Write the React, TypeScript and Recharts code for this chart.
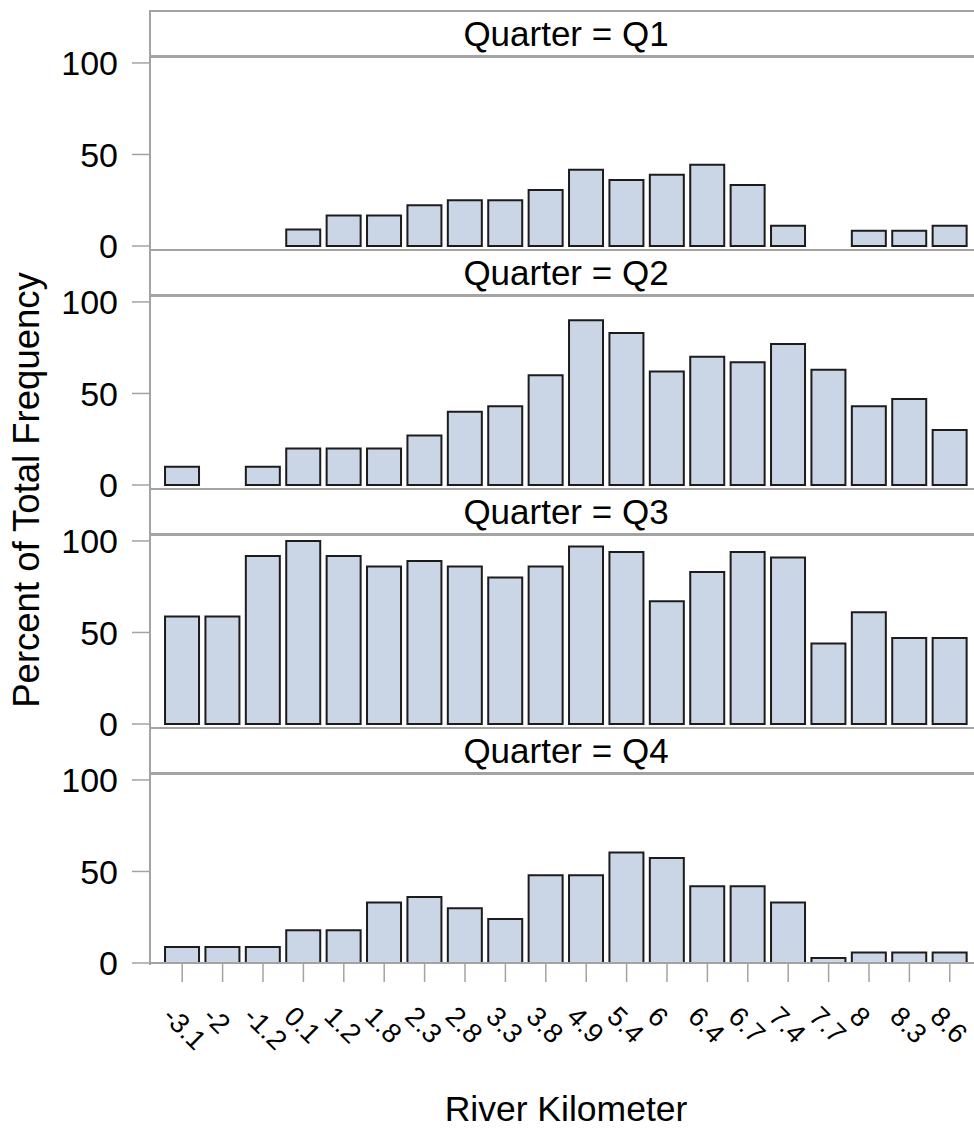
import { Bar, BarChart, XAxis, YAxis } from "recharts";

const riverKm = ["-3.1", "-2", "-1.2", "0.1", "1.2", "1.8", "2.3", "2.8", "3.3", "3.8", "4.9", "5.4", "6", "6.4", "6.7", "7.4", "7.7", "8", "8.3", "8.6"];
const quarters = ["Q1", "Q2", "Q3", "Q4"];
const q1 = [0, 0, 0, 9, 16.7, 16.7, 22.2, 25, 25, 30.6, 41.7, 36.1, 38.9, 44.4, 33.3, 11.1, 0, 8.3, 8.3, 11.1];
const q2 = [10, 0, 10, 20, 20, 20, 27, 40, 43, 60, 90, 83, 62, 70, 67, 77, 63, 43, 47, 30];
const q3 = [58.7, 58.7, 91.8, 100, 91.8, 86, 89, 86, 80, 86, 97, 94, 67, 83, 94, 91, 44, 61, 47, 47];
const q4 = [8.8, 8.8, 8.8, 17.9, 17.9, 33, 36.1, 29.9, 24, 48, 48, 60.3, 57.3, 41.9, 41.9, 33, 2.7, 5.7, 5.7, 5.7];
const yTicks = [0, 50, 100];

const series = [q1, q2, q3, q4];
const FONT = "'Liberation Sans', Arial, sans-serif";
const GRAY = "#a3a3a3";
const PANEL_H = 239;
const TOP = 10;
const CHART_W = 982;
const EXTRA = 24; // room below plot so the "0" label is not clipped

function KmTick({ x, y, payload }: any) {
  return (
    <g transform={`translate(${x},${y})`}>
      <text
        transform="translate(-21,36) rotate(45)"
        fontSize={27.5}
        fontFamily={FONT}
        fill="#000"
        textAnchor="start"
      >
        {payload.value}
      </text>
    </g>
  );
}

function Panel({ idx }: { idx: number }) {
  const last = idx === series.length - 1;
  const data = riverKm.map((km, i) => ({ km, pct: series[idx][i] }));
  const top = TOP + PANEL_H * idx;
  return (
    <>
      <div
        style={{
          position: "absolute",
          left: 150,
          top,
          width: CHART_W - 150,
          height: 48,
          boxSizing: "border-box",
          borderTop: `2px solid ${GRAY}`,
          borderBottom: `3px solid ${GRAY}`,
          display: "flex",
          alignItems: "center",
          justifyContent: "center",
          fontFamily: FONT,
          fontSize: 35,
          color: "#000",
        }}
      >
        Quarter = {quarters[idx]}
      </div>
      <div style={{ position: "absolute", left: 0, top }}>
        <BarChart
          width={CHART_W}
          height={last ? 1134 - top : PANEL_H + EXTRA}
          data={data}
          margin={{ top: 48, right: 0, bottom: last ? 3 : 3 + EXTRA, left: 0 }}
          barCategoryGap="7.5%"
        >
          <XAxis
            dataKey="km"
            padding={{ left: 12, right: 12 }}
            height={last ? 168 : 0}
            axisLine={{ stroke: GRAY, strokeWidth: 2 }}
            tickLine={last ? { stroke: GRAY, strokeWidth: 1.5 } : false}
            tickSize={19}
            tickMargin={0}
            tick={last ? <KmTick /> : false}
            interval={0}
            label={
              last
                ? {
                    value: "River Kilometer",
                    position: "insideBottom",
                    offset: 10,
                    fontSize: 35.5,
                    fontFamily: FONT,
                    fill: "#000",
                  }
                : undefined
            }
          />
          <YAxis
            width={150}
            domain={[0, 102.7]}
            ticks={yTicks}
            axisLine={false}
            tickLine={{ stroke: GRAY, strokeWidth: 1.5 }}
            tickSize={18}
            tickMargin={14}
            tick={{ fontSize: 34, fontFamily: FONT, fill: "#000" }}
          />
          <Bar
            dataKey="pct"
            fill="#cad5e6"
            stroke="#1c1c1c"
            strokeWidth={2}
            isAnimationActive={false}
          />
        </BarChart>
      </div>
    </>
  );
}

export default function App() {
  return (
    <div
      style={{
        position: "absolute",
        left: 0,
        top: 0,
        width: 974,
        height: 1134,
        overflow: "hidden",
        background: "#fff",
      }}
    >
      {series.map((_, i) => (
        <Panel key={i} idx={i} />
      ))}
      <div
        style={{
          position: "absolute",
          left: 149,
          top: TOP,
          width: 2,
          height: 955,
          background: GRAY,
        }}
      />
      <svg
        width={60}
        height={1134}
        style={{ position: "absolute", left: 0, top: 0 }}
      >
        <text
          transform="translate(39,490) rotate(-90)"
          textAnchor="middle"
          fontSize={36.5}
          fontFamily={FONT}
          fill="#000"
        >
          Percent of Total Frequency
        </text>
      </svg>
    </div>
  );
}
